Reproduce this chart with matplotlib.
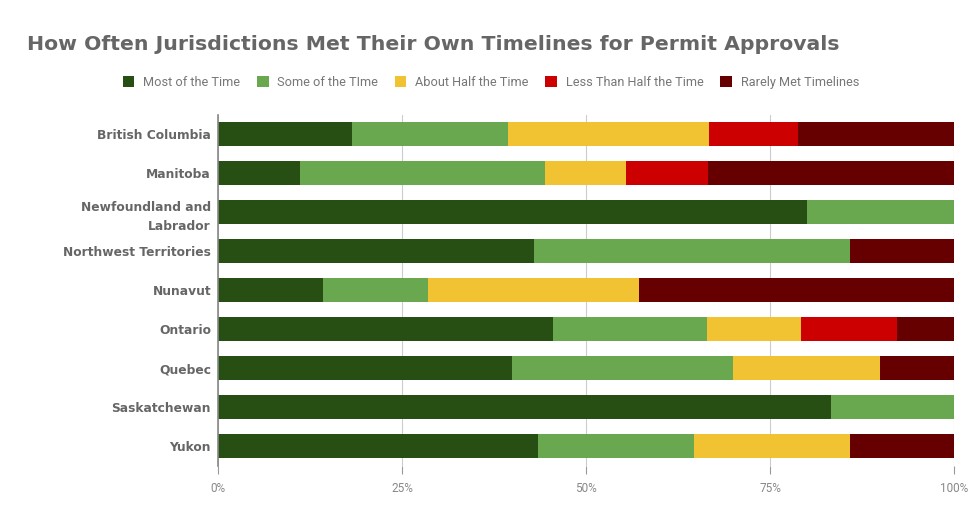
import matplotlib
matplotlib.use("Agg")
import matplotlib.pyplot as plt
import numpy as np

categories = ["British Columbia", "Manitoba", "Newfoundland and\nLabrador",
              "Northwest Territories", "Nunavut", "Ontario", "Quebec",
              "Saskatchewan", "Yukon"]
series_names = ["Most of the Time", "Some of the TIme", "About Half the Time",
                "Less Than Half the Time", "Rarely Met Timelines"]
most = [18.2, 11.1, 80.0, 42.9, 14.3, 45.5, 40.0, 83.3, 43.5]
some = [21.2, 33.3, 20.0, 42.9, 14.3, 20.9, 30.0, 16.7, 21.2]
half = [27.3, 11.1, 0.0, 0.0, 28.6, 12.8, 20.0, 0.0, 21.2]
less = [12.1, 11.1, 0.0, 0.0, 0.0, 13.1, 0.0, 0.0, 0.0]
rarely = [21.2, 33.4, 0.0, 14.2, 42.8, 7.7, 10.0, 0.0, 14.1]
tick_labels = ["0%", "25%", "50%", "75%", "100%"]
colors = ["#274e13", "#6aa84f", "#f1c232", "#cc0000", "#660000"]

fig = plt.figure(figsize=(9.8, 5.2), dpi=100)
ax = fig.add_axes([0.2224, 0.1048, 0.7511, 0.675])

y = np.arange(len(categories))
left = np.zeros(len(categories))
handles = []
for name, vals, c in zip(series_names, [most, some, half, less, rarely], colors):
    v = np.array(vals)
    h = ax.barh(y, v, left=left, height=0.62, color=c, label=name, zorder=3)
    handles.append(h)
    left += v

ax.set_xlim(0, 100)
ax.set_ylim(len(categories) - 0.5, -0.5)
ax.set_yticks(y)
ax.set_yticklabels(categories, fontsize=8.8, fontweight="bold", color="#666666",
                   family="DejaVu Sans", linespacing=1.6)
ax.tick_params(axis="y", length=0, pad=5)
ax.set_xticks([0, 25, 50, 75, 100])
ax.set_xticklabels(tick_labels, fontsize=8.5, color="#888888", family="Roboto")
ax.tick_params(axis="x", length=6, color="#999999", pad=6, width=0.8)
ax.grid(axis="x", color="#cccccc", linewidth=0.8, zorder=0)
for s in ["top", "right", "bottom"]:
    ax.spines[s].set_visible(False)
ax.spines["left"].set_color("#888888")
ax.spines["left"].set_linewidth(1.2)
ax.spines["left"].set_zorder(4)

fig.text(0.028, 0.914, "How Often Jurisdictions Met Their Own Timelines for Permit Approvals",
         fontsize=14.7, fontweight="bold", color="#666666", family="DejaVu Sans",
         va="center", ha="left")

leg = fig.legend(handles=handles, labels=series_names, loc="center",
                 bbox_to_anchor=(0.501, 0.842), ncol=5, frameon=False,
                 prop={"family": "Roboto", "size": 9.2}, handlelength=0.9,
                 handleheight=0.9, columnspacing=1.3, handletextpad=0.7)
for t in leg.get_texts():
    t.set_color("#777777")

fig.savefig("out.png", dpi=100, facecolor="white")
